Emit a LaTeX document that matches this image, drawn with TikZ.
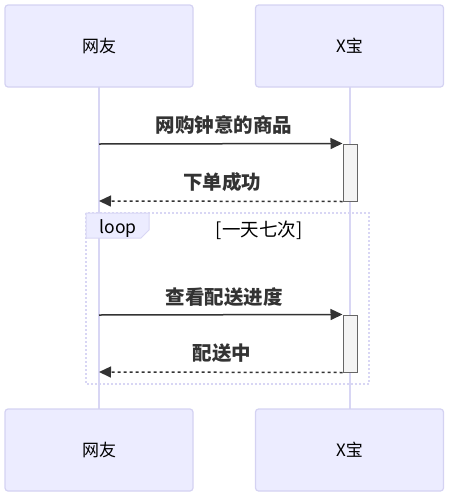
\documentclass[tikz,border=0pt]{standalone}
\usepackage{fontspec}
\setmainfont{Noto Sans CJK SC}
\usetikzlibrary{arrows.meta}
\definecolor{actorfill}{HTML}{ECECFF}
\definecolor{actorline}{HTML}{D4D2F2}
\definecolor{lifeline}{HTML}{D8D6F4}
\definecolor{textgray}{HTML}{333333}
\definecolor{actfill}{HTML}{F4F4F4}
\definecolor{actline}{HTML}{666666}
\begin{document}
\begin{tikzpicture}[x=1pt, y=-1pt]
        \tikzset{>={Triangle[length=12pt,width=11pt]}}
        \tikzset{actor/.style={draw=actorline, fill=actorfill, line width=1.2pt,
            rounded corners=3pt, minimum width=188pt, minimum height=82pt,
            inner sep=0pt, font=\fontsize{17}{20}\selectfont},
          life/.style={draw=lifeline, line width=1.5pt},
          act/.style={draw=actline, fill=actfill, line width=1pt,
            minimum width=14pt, inner sep=0pt},
          msg/.style={draw=textgray, line width=1.5pt},
          reply/.style={msg, dash pattern=on 3pt off 3pt},
          msgtext/.style={text=textgray, font=\fontsize{19.5}{22}\selectfont\bfseries},
          loopline/.style={draw=lifeline, line width=1.5pt, dash pattern=on 2pt off 2pt}}

	\useasboundingbox (0,0) rectangle (451,501);

	% lifelines
	\draw[life] (99,87) -- (99,409);
	\draw[life] (350,87) -- (350,409);

	% actors
	\node[actor] (wy top) at (99,46) {网友};
	\node[actor] (xb top) at (349.5,46) {X宝};
	\node[actor] (wy bot) at (99,450) {网友};
	\node[actor] (xb bot) at (349.5,450) {X宝};

	% loop frame
	\draw[loopline] (86,213) rectangle (369,384);
	\filldraw[fill=actorfill, draw=lifeline, line width=1pt]
	    (86,213) -- (149,213) -- (149,230) -- (141,238) -- (86,238) -- cycle;
	\node[text=black, font=\fontsize{17.5}{20}\selectfont] (looptag) at (118,228.5) {loop};
	\node[text=black, font=\fontsize{18.5}{21}\selectfont] (loopcond) at (259,230) {[一天七次]};

	% activations
	\node[act, minimum height=57pt] (act1) at (350,172.5) {};
	\node[act, minimum height=57pt] (act2) at (350,343.5) {};

	\coordinate (send1) at (99,144);
	\coordinate (back1) at (99,201);
	\coordinate (send2) at (99,315);
	\coordinate (back2) at (99,372);

	% messages
	\draw[msg, ->] (send1) -- (act1.north west);
	\node[msgtext] (m1) at (224,125) {网购钟意的商品};
	\draw[reply, ->] (act1.south west) -- (back1);
	\node[msgtext] (m2) at (222,182) {下单成功};
	\draw[msg, ->] (send2) -- (act2.north west);
	\node[msgtext] (m3) at (224,297) {查看配送进度};
	\draw[reply, ->] (act2.south west) -- (back2);
	\node[msgtext] (m4) at (222,353) {配送中};
        \end{tikzpicture}
\end{document}
